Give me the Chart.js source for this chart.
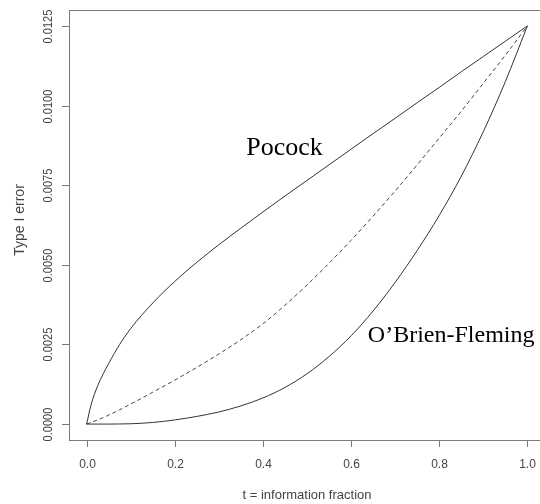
<!DOCTYPE html>
<html>
<head>
<meta charset="utf-8">
<script src="https://cdn.jsdelivr.net/npm/chart.js@4"></script>
<style>
  html, body { margin: 0; padding: 0; background: #fff; overflow: hidden; }
  #wrap { position: absolute; left: 0; top: 0; width: 560px; height: 504px; }
</style>
</head>
<body>
<div id="wrap"><canvas id="spendingChart" width="560" height="504"></canvas></div>
<script>
// information fraction
const tValues = [0, 0.01, 0.025, 0.05, 0.075, 0.1, 0.15, 0.2, 0.25, 0.3, 0.35, 0.4,
                 0.45, 0.5, 0.55, 0.6, 0.65, 0.7, 0.75, 0.8, 0.85, 0.9, 0.95, 1.0];

// alpha spent
const pocock = [0, 0.0006, 0.0012, 0.0019, 0.0025, 0.0030, 0.0038, 0.00448, 0.00508, 0.00563, 0.00615, 0.00666,
                0.00716, 0.00765, 0.00814, 0.00863, 0.00912, 0.0096, 0.01009, 0.01057, 0.01106, 0.01154, 0.01202, 0.0125];
const middle = [0, 0.00005, 0.00013, 0.00028, 0.00045, 0.00063, 0.001, 0.00138, 0.00178, 0.0022, 0.00265, 0.00315,
                0.00373, 0.00437, 0.00505, 0.00577, 0.00653, 0.00732, 0.00814, 0.00898, 0.00982, 0.0107, 0.01158, 0.0125];
const obrienFleming = [0, 0, 0, 0, 0.000003, 0.00001, 0.00005, 0.00013, 0.00024, 0.00038, 0.00057, 0.00082,
                       0.00115, 0.00158, 0.00212, 0.00277, 0.00355, 0.00445, 0.00545, 0.00655, 0.00778, 0.00918, 0.01075, 0.0125];

const xTicks = [0, 0.2, 0.4, 0.6, 0.8, 1.0];
const yTicks = [0, 0.0025, 0.005, 0.0075, 0.01, 0.0125];

const curveLabels = ['Pocock', 'O\u2019Brien-Fleming'];
const curveLabelX = [0.362, 0.638];
const curveLabelY = [0.00845, 0.00258];
const curveLabelSize = [26, 24];

const toPoints = ys => tValues.map((t, i) => ({ x: t, y: ys[i] }));

const frame = {
    id: 'frame',
    afterDatasetsDraw(chart) {
        const ctx = chart.ctx;
        const a = chart.chartArea;
        const xs = chart.scales.x, ys = chart.scales.y;
        ctx.save();

        // labels on the curves
        ctx.fillStyle = '#000';
        ctx.textAlign = 'left';
        ctx.textBaseline = 'alphabetic';
        curveLabels.forEach((txt, i) => {
            ctx.font = curveLabelSize[i] + 'px "Liberation Serif", "Times New Roman", serif';
            ctx.fillText(txt, xs.getPixelForValue(curveLabelX[i]), ys.getPixelForValue(curveLabelY[i]));
        });

        // box
        ctx.strokeStyle = '#7a7a7a';
        ctx.lineWidth = 1;
        ctx.strokeRect(Math.round(a.left) + 0.5, Math.round(a.top) + 0.5,
                       Math.round(a.right - a.left), Math.round(a.bottom - a.top));

        // x axis ticks + labels
        ctx.fillStyle = '#444';
        ctx.font = '12px "Liberation Sans", Arial, sans-serif';
        ctx.textAlign = 'center';
        ctx.textBaseline = 'middle';
        xTicks.forEach(v => {
            const px = Math.round(xs.getPixelForValue(v)) + 0.5;
            ctx.beginPath();
            ctx.moveTo(px, a.bottom);
            ctx.lineTo(px, a.bottom + 7);
            ctx.stroke();
            ctx.fillText(v.toFixed(1), px, a.bottom + 25);
        });

        // y axis ticks + rotated labels
        yTicks.forEach(v => {
            const py = Math.round(ys.getPixelForValue(v)) + 0.5;
            ctx.beginPath();
            ctx.moveTo(a.left, py);
            ctx.lineTo(a.left - 7, py);
            ctx.stroke();
            ctx.save();
            ctx.translate(a.left - 21, py);
            ctx.rotate(-Math.PI / 2);
            ctx.scale(0.85, 1);
            ctx.font = '13px "Liberation Sans", Arial, sans-serif';
            ctx.fillText(v.toFixed(4), 0, 0);
            ctx.restore();
        });

        // axis titles
        ctx.font = '13px "Liberation Sans", Arial, sans-serif';
        ctx.fillText('t = information fraction', (a.left + a.right) / 2, a.bottom + 55);
        ctx.save();
        ctx.translate(20, (a.top + a.bottom) / 2 - 5);
        ctx.rotate(-Math.PI / 2);
        ctx.font = '14px "Liberation Sans", Arial, sans-serif';
        ctx.fillText('Type I error', 0, 0);
        ctx.restore();

        ctx.restore();
    }
};

const ctx = document.getElementById('spendingChart').getContext('2d');
new Chart(ctx, {
    type: 'line',
    data: {
        datasets: [
            { label: 'Pocock', data: toPoints(pocock), borderColor: '#333', borderWidth: 1 },
            { label: 'linear', data: toPoints(middle), borderColor: '#444', borderWidth: 1, borderDash: [4, 3] },
            { label: "O'Brien-Fleming", data: toPoints(obrienFleming), borderColor: '#333', borderWidth: 1 }
        ]
    },
    options: {
        responsive: false,
        animation: false,
        elements: { point: { radius: 0 }, line: { cubicInterpolationMode: 'monotone' } },
        layout: { padding: { left: 69, top: 10, right: 15, bottom: 64 } },
        plugins: { legend: { display: false }, tooltip: { enabled: false } },
        scales: {
            x: { type: 'linear', min: -0.04, max: 1.04, display: false },
            y: { type: 'linear', min: -0.0005, max: 0.013, display: false }
        }
    },
    plugins: [frame]
});
</script>
</body>
</html>
